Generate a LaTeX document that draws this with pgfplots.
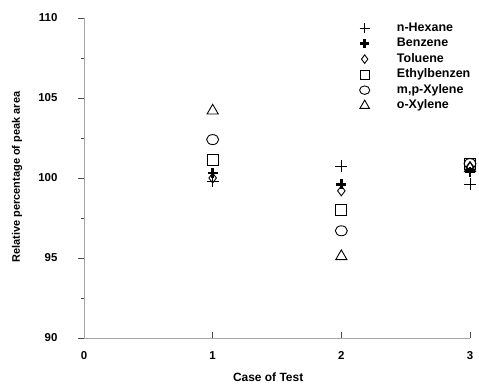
\documentclass[border=0pt]{standalone}
\usepackage{pgfplots}
\pgfplotsset{compat=1.18}
\usepackage{fontspec}
\setmainfont{Liberation Sans}
\begin{document}
\begin{tikzpicture}[x=1bp,y=1bp]
\useasboundingbox (0,0) rectangle (479,384);
\begin{axis}[
  at={(84bp,46bp)}, anchor=south west,
  scale only axis, width=386bp, height=320bp,
  xmin=0, xmax=3, ymin=90, ymax=110,
  axis x line=bottom, axis y line=left,
  axis line style={-, gray!70, line width=0.6pt},
  xtick={0,1,2,3}, ytick={90,95,100,105,110},
  minor y tick num=1,
  xtick align=inside, ytick align=outside,
  major tick length=6bp, minor tick length=3bp,
  tick style={black!70, line width=0.6pt},
  /pgf/number format/assume math mode=true,
  tick label style={font=\fontsize{11.5}{13}\selectfont\bfseries},
  xticklabel style={yshift=-10bp},
  yticklabel style={xshift=-17bp},
  xlabel={Case of Test},
  ylabel={Relative percentage of peak area},
  xlabel style={font=\fontsize{12}{14}\selectfont\bfseries, at={(axis description cs:0.477,-0.122)}, anchor=center},
  ylabel style={font=\fontsize{11}{13}\selectfont\bfseries, at={(axis description cs:-0.1736,0.503)}, anchor=center, rotate=0},
  legend style={draw=none, fill=none, at={(axis description cs:0.70,0.997)}, anchor=north west,
    font=\fontsize{12.5}{14}\selectfont\bfseries, row sep=1.5bp,
    nodes={inner sep=1bp, text height=9bp, text depth=3bp}},
  legend cell align=left,
  legend image code/.code={\path (0bp,0bp) (36bp,0bp); \draw[#1, every mark/.append style={scale=0.85}] plot coordinates {(6bp,0bp)};},
]
\addplot[only marks, mark=+, mark size=6bp, line width=0.8pt] coordinates {(1,99.8) (2,100.75) (3,99.6)};
\addlegendentry{n-Hexane}
\addplot[only marks, mark=+, mark size=5bp, line width=2.6pt] coordinates {(1,100.3) (2,99.6) (3,100.4)};
\addlegendentry{Benzene}
\addplot[only marks, mark=diamond, mark size=5bp, line width=0.9pt] coordinates {(1,100.0) (2,99.2) (3,100.7)};
\addlegendentry{Toluene}
\addplot[only marks, mark=square, mark size=5.5bp, line width=0.9pt] coordinates {(1,101.1) (2,98.0) (3,100.9)};
\addlegendentry{Ethylbenzen}
\addplot[only marks, mark=o, mark size=5bp, line width=0.9pt, mark options={xscale=1.2}] coordinates {(1,102.4) (2,96.7) (3,100.9)};
\addlegendentry{m,p-Xylene}
\addplot[only marks, mark=triangle, mark size=6.5bp, line width=0.9pt] coordinates {(1,104.2) (2,95.1) (3,100.6)};
\addlegendentry{o-Xylene}
\end{axis}
\end{tikzpicture}
\end{document}
